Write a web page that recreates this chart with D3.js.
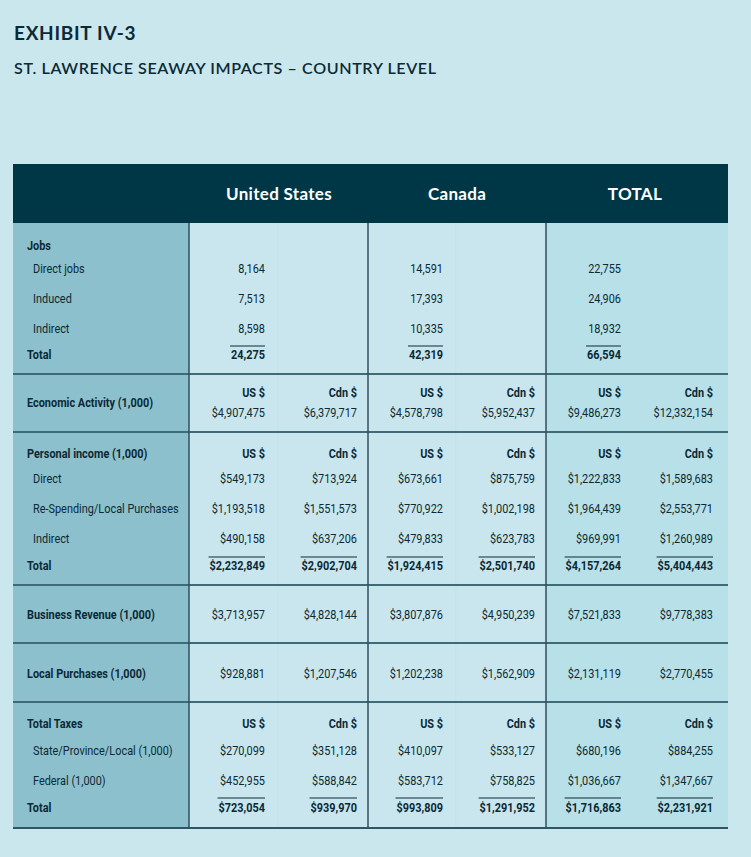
<!DOCTYPE html>
<html>
<head>
<meta charset="utf-8">
<script src="https://cdn.jsdelivr.net/npm/d3@7"></script>
<style>
  html, body { margin: 0; padding: 0; background: #cbe7ee; }
  svg { display: block; }
  .narrow { font-family: Roboto, "Liberation Sans", sans-serif; }
</style>
</head>
<body>
<svg id="chart" width="751" height="857"></svg>
<script>
// ---------- DATA ----------
const title = "EXHIBIT IV-3";
const subtitle = "ST. LAWRENCE SEAWAY IMPACTS – COUNTRY LEVEL";
const countries = ["United States", "Canada", "TOTAL"];
const currencies = ["US $", "Cdn $"];

// Jobs (one value per country)
const jobLabels = ["Direct jobs", "Induced", "Indirect"];
const jobsDirect = [8164, 14591, 22755];
const jobsInduced = [7513, 17393, 24906];
const jobsIndirect = [8598, 10335, 18932];
const jobsTotal = [24275, 42319, 66594];

// Dollar rows: US$ / Cdn$ for United States, Canada, TOTAL
const economicActivity = [4907475, 6379717, 4578798, 5952437, 9486273, 12332154];

const incomeLabels = ["Direct", "Re-Spending/Local Purchases", "Indirect"];
const incomeDirect = [549173, 713924, 673661, 875759, 1222833, 1589683];
const incomeRespending = [1193518, 1551573, 770922, 1002198, 1964439, 2553771];
const incomeIndirect = [490158, 637206, 479833, 623783, 969991, 1260989];
const incomeTotal = [2232849, 2902704, 1924415, 2501740, 4157264, 5404443];

const businessRevenue = [3713957, 4828144, 3807876, 4950239, 7521833, 9778383];
const localPurchases = [928881, 1207546, 1202238, 1562909, 2131119, 2770455];

const taxLabels = ["State/Province/Local (1,000)", "Federal (1,000)"];
const taxState = [270099, 351128, 410097, 533127, 680196, 884255];
const taxFederal = [452955, 588842, 583712, 758825, 1036667, 1347667];
const taxTotal = [723054, 939970, 993809, 1291952, 1716863, 2231921];

// ---------- LAYOUT ----------
const svg = d3.select("#chart");
const C = {
  ink: "#0b2a36", header: "#003747", label: "#8cc0cc", cell: "#c9e6ee",
  totalCell: "#b8e0e8", vline: "#2c4f5c", hline: "#3f6b79"
};
const SX = 0.82; // horizontal condensing of table text
const FS = 13.3;
const tableL = 13, tableR = 728, labelR = 189;
const headTop = 164, headBot = 223, tableBot = 828;

const x = d3.scaleBand().domain(countries).range([labelR + 1, 724]).paddingInner(0).paddingOuter(0);
const sub = d3.scalePoint().domain(currencies).range([75, 167]); // right edges within a country band
const colRight = i => x(countries[Math.floor(i / 2)]) + sub(currencies[i % 2]);
const jobRight = i => x(countries[i]) + sub(currencies[0]);
const fmtN = d3.format(",");
const fmtD = d3.format("$,");

// Titles
svg.append("text").attr("x", 14).attr("y", 40)
  .attr("font-family", "Lato, 'Noto Sans', sans-serif").attr("font-weight", 700)
  .attr("font-size", 19).attr("letter-spacing", 0.7).attr("fill", C.ink).text(title);
svg.append("text").attr("x", 14).attr("y", 74)
  .attr("font-family", "Lato, 'Noto Sans', sans-serif").attr("font-weight", 600)
  .attr("font-size", 16.1).attr("fill", C.ink).attr("letter-spacing", 0.6).text(subtitle);

// Background blocks
svg.append("rect").attr("x", tableL).attr("y", headBot).attr("width", labelR - tableL)
  .attr("height", tableBot - headBot).attr("fill", C.label);
countries.forEach((c, i) => {
  const x0 = i === 0 ? labelR : x(c);
  const x1 = i === 2 ? tableR : x(c) + x.bandwidth();
  svg.append("rect").attr("x", x0).attr("y", headBot).attr("width", x1 - x0)
    .attr("height", tableBot - headBot).attr("fill", i === 2 ? C.totalCell : C.cell);
});
// faint inner sub-column lines
countries.slice(0, 2).forEach(c => {
  svg.append("line").attr("x1", x(c) + 88).attr("x2", x(c) + 88)
    .attr("y1", headBot).attr("y2", tableBot).attr("stroke", "#c0dfe6").attr("stroke-width", 0.6);
});

// Header
svg.append("rect").attr("x", tableL).attr("y", headTop).attr("width", tableR - tableL)
  .attr("height", headBot - headTop).attr("fill", C.header);
svg.selectAll("text.head").data(countries).join("text").attr("class", "head")
  .attr("x", d => x(d) + x.bandwidth() / 2)
  .attr("y", 200).attr("text-anchor", "middle")
  .attr("font-family", "Lato, 'Noto Sans', sans-serif").attr("font-weight", 700)
  .attr("font-size", 17).attr("fill", "#ffffff").attr("letter-spacing", 0.3).text(d => d);

// Section separators
const seps = [374, 432, 585, 643, 702];
seps.forEach(y => {
  svg.append("line").attr("x1", tableL).attr("x2", tableR).attr("y1", y).attr("y2", y)
    .attr("stroke", C.hline).attr("stroke-width", 2);
});
svg.append("line").attr("x1", tableL).attr("x2", tableR).attr("y1", tableBot).attr("y2", tableBot)
  .attr("stroke", "#2e5664").attr("stroke-width", 2);
// Vertical lines
[labelR, x("Canada"), x("TOTAL")].forEach(v => {
  svg.append("line").attr("x1", v).attr("x2", v).attr("y1", headBot).attr("y2", tableBot)
    .attr("stroke", C.vline).attr("stroke-width", 1.5);
});

const g = svg.append("g").attr("class", "narrow").attr("fill", C.ink);

function txt(str, xPos, y, bold, anchor) {
  return g.append("text")
    .attr("transform", `translate(${xPos},${y}) scale(${SX},1)`)
    .attr("text-anchor", anchor || "start")
    .attr("font-size", FS).attr("font-weight", bold ? 700 : 400).text(str);
}
function label(text, y, bold, indent) { txt(text, indent ? 33 : 27, y, bold); }
function dollarRow(vals, y, bold) {
  vals.forEach((d, i) => txt(fmtD(d), colRight(i), y, bold, "end"));
}
function currencyRow(y) {
  d3.range(6).forEach(i => txt(currencies[i % 2], colRight(i), y, true, "end"));
}
function textWidth(str, bold) {
  const t = txt(str, 0, 0, bold);
  const w = t.node().getComputedTextLength() * SX; t.remove(); return w;
}
function overline(y, strs, rightFn) {
  strs.forEach((s, i) => {
    const w = textWidth(s, true) + 1;
    svg.append("line").attr("x1", rightFn(i) - w).attr("x2", rightFn(i))
      .attr("y1", y).attr("y2", y).attr("stroke", C.ink).attr("stroke-width", 1);
  });
}

// Jobs
label("Jobs", 250, true, false);
[jobsDirect, jobsInduced, jobsIndirect].forEach((vals, r) => {
  const y = [273, 303, 333][r];
  label(jobLabels[r], y, false, true);
  vals.forEach((d, i) => txt(fmtN(d), jobRight(i), y, false, "end"));
});
label("Total", 359, true, false);
jobsTotal.forEach((d, i) => txt(fmtN(d), jobRight(i), 359, true, "end"));
overline(346, jobsTotal.map(fmtN), jobRight);

// Economic activity
label("Economic Activity (1,000)", 407, true, false);
currencyRow(397);
dollarRow(economicActivity, 417, false);

// Personal income
label("Personal income (1,000)", 458, true, false);
currencyRow(458);
[incomeDirect, incomeRespending, incomeIndirect].forEach((vals, r) => {
  const y = [483, 513, 543][r];
  label(incomeLabels[r], y, false, true);
  dollarRow(vals, y, false);
});
label("Total", 570, true, false);
dollarRow(incomeTotal, 570, true);
overline(557, incomeTotal.map(fmtD), colRight);

// Business revenue, local purchases
label("Business Revenue (1,000)", 619, true, false);
dollarRow(businessRevenue, 619, false);
label("Local Purchases (1,000)", 678, true, false);
dollarRow(localPurchases, 678, false);

// Taxes
label("Total Taxes", 728, true, false);
currencyRow(728);
[taxState, taxFederal].forEach((vals, r) => {
  const y = [755, 785][r];
  label(taxLabels[r], y, false, true);
  dollarRow(vals, y, false);
});
label("Total", 812, true, false);
dollarRow(taxTotal, 812, true);
overline(798, taxTotal.map(fmtD), colRight);
</script>
</body>
</html>
